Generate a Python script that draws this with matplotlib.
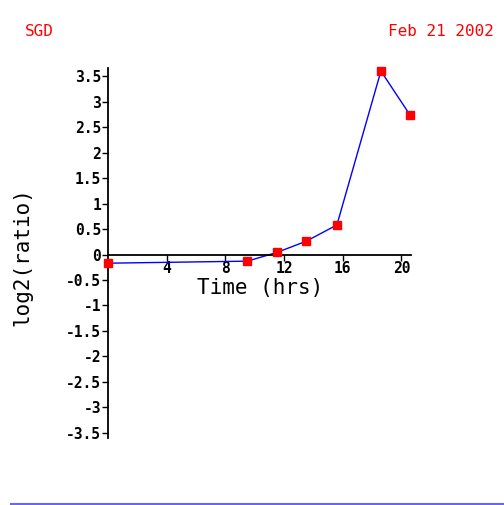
import matplotlib
matplotlib.use("Agg")
import matplotlib.pyplot as plt

time_hrs = [0.0, 9.5, 11.5, 13.5, 15.6, 18.6, 20.6]
log2_ratio = [-0.17, -0.13, 0.04, 0.26, 0.58, 3.6, 2.73]
x_ticks = [4, 8, 12, 16, 20]
y_ticks = [-3.5, -3, -2.5, -2, -1.5, -1, -0.5, 0, 0.5, 1, 1.5, 2, 2.5, 3, 3.5]
y_tick_labels = ["-3.5", "-3", "-2.5", "-2", "-1.5", "-1", "-0.5", "0", "0.5", "1", "1.5", "2", "2.5", "3", "3.5"]
x_tick_labels = ["4", "8", "12", "16", "20"]

W, H = 504, 505
fig = plt.figure(figsize=(W / 100, H / 100), dpi=100)
mono = "DejaVu Sans Mono"

left, right, top, bottom = 108, 411, 68, 438
ax = fig.add_axes([left / W, 1 - bottom / H, (right - left) / W, (bottom - top) / H])
ax.set_xlim(0, 20.65)
ax.set_ylim(-3.6, 3.66)

ax.plot(time_hrs, log2_ratio, color="#0000ff", lw=1.0, zorder=2)
ax.plot(time_hrs, log2_ratio, ls="none", marker="s", ms=5.5, mfc="#ff0000", mec="#ff0000", zorder=3, clip_on=False)

for s in ["top", "right"]:
    ax.spines[s].set_visible(False)
ax.spines["bottom"].set_position(("data", 0))
ax.spines["left"].set_linewidth(1.3)
ax.spines["bottom"].set_linewidth(1.3)

ax.set_xticks(x_ticks)
ax.set_xticklabels(x_tick_labels, fontfamily=mono, fontweight="bold", fontsize=10.5)
ax.set_yticks(y_ticks)
ax.set_yticklabels(y_tick_labels, fontfamily=mono, fontweight="bold", fontsize=10.5)
ax.tick_params(axis="both", direction="out", length=4, width=1, pad=1)

fig.text(260 / W, 1 - 288 / H, "Time (hrs)", ha="center", va="center", fontfamily=mono, fontsize=15)
fig.text(22 / W, 1 - 257 / H, "log2(ratio)", ha="center", va="center", rotation=90, fontfamily=mono, fontsize=15)

fig.text(25 / W, 1 - 32 / H, "SGD", ha="left", va="center", color="#ff0000", fontfamily=mono, fontsize=11.5)
fig.text(494 / W, 1 - 32 / H, "Feb 21 2002", ha="right", va="center", color="#ff0000", fontfamily=mono, fontsize=11.5)

fig.add_artist(plt.Line2D([11 / W, 1.0], [1 - 504 / H, 1 - 504 / H], color="#6666ff", lw=1.5))

fig.savefig("out.png", dpi=100)
